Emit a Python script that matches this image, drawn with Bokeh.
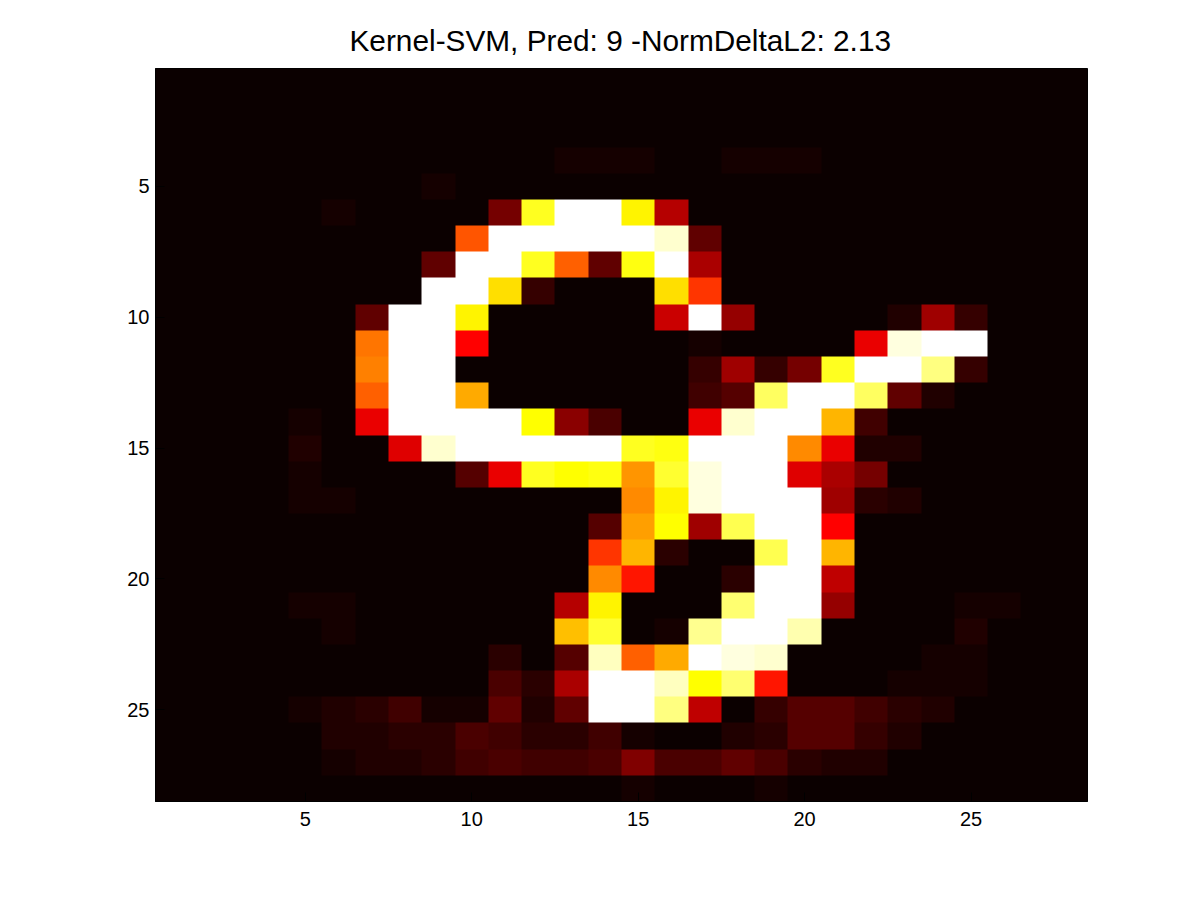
import numpy as np
from bokeh.plotting import figure
from bokeh.models import LinearColorMapper, FixedTicker, Range1d
from bokeh.embed import file_html
from bokeh.resources import INLINE

TITLE = "Kernel-SVM, Pred: 9 -NormDeltaL2: 2.13"
x_ticks = [5, 10, 15, 20, 25]
y_ticks = [5, 10, 15, 20, 25]

# Colour index (0-63) of each image cell, one list per image row
r01 = [0,0,0,0,0,0,0,0,0,0,0,0,0,0,0,0,0,0,0,0,0,0,0,0,0,0,0,0]
r02 = [0,0,0,0,0,0,0,0,0,0,0,0,0,0,0,0,0,0,0,0,0,0,0,0,0,0,0,0]
r03 = [0,0,0,0,0,0,0,0,0,0,0,0,0,0,0,0,0,0,0,0,0,0,0,0,0,0,0,0]
r04 = [0,0,0,0,0,0,0,0,0,0,0,0,1,1,1,0,0,1,1,1,0,0,0,0,0,0,0,0]
r05 = [0,0,0,0,0,0,0,0,1,0,0,0,0,0,0,0,0,0,0,0,0,0,0,0,0,0,0,0]
r06 = [0,0,0,0,0,1,0,0,0,0,10,49,63,63,46,16,0,0,0,0,0,0,0,0,0,0,0,0]
r07 = [0,0,0,0,0,0,0,0,0,31,63,63,63,63,63,60,8,0,0,0,0,0,0,0,0,0,0,0]
r08 = [0,0,0,0,0,0,0,0,8,63,63,49,32,8,48,63,15,0,0,0,0,0,0,0,0,0,0,0]
r09 = [0,0,0,0,0,0,0,0,63,63,44,4,0,0,0,44,28,0,0,0,0,0,0,0,0,0,0,0]
r10 = [0,0,0,0,0,0,8,63,63,46,0,0,0,0,0,18,63,13,0,0,0,0,2,14,4,0,0,0]
r11 = [0,0,0,0,0,0,34,63,63,23,0,0,0,0,0,0,1,0,0,0,0,21,61,63,63,0,0,0]
r12 = [0,0,0,0,0,0,35,63,63,0,0,0,0,0,0,0,4,14,4,10,49,63,63,55,4,0,0,0]
r13 = [0,0,0,0,0,0,32,63,63,39,0,0,0,0,0,0,5,7,53,63,63,53,8,2,0,0,0,0]
r14 = [0,0,0,0,1,0,21,63,63,63,63,47,12,6,0,0,21,60,63,63,40,5,0,0,0,0,0,0]
r15 = [0,0,0,0,2,0,0,20,60,63,63,63,63,63,49,48,63,63,63,36,21,2,2,0,0,0,0,0]
r16 = [0,0,0,0,1,0,0,0,0,7,21,49,47,48,37,50,61,63,63,20,15,10,0,0,0,0,0,0]
r17 = [0,0,0,0,1,1,0,0,0,0,0,0,0,0,36,46,61,63,63,63,14,3,2,0,0,0,0,0]
r18 = [0,0,0,0,0,0,0,0,0,0,0,0,0,7,38,47,14,52,63,63,23,0,0,0,0,0,0,0]
r19 = [0,0,0,0,0,0,0,0,0,0,0,0,0,28,40,3,0,0,52,63,40,0,0,0,0,0,0,0]
r20 = [0,0,0,0,0,0,0,0,0,0,0,0,0,36,25,0,0,3,63,63,17,0,0,0,0,0,0,0]
r21 = [0,0,0,0,1,1,0,0,0,0,0,0,16,46,0,0,0,54,63,63,13,0,0,0,1,1,0,0]
r22 = [0,0,0,0,0,1,0,0,0,0,0,0,41,50,0,1,56,63,63,58,0,0,0,0,2,0,0,0]
r23 = [0,0,0,0,0,0,0,0,0,0,3,0,7,59,32,39,63,61,60,0,0,0,0,1,1,0,0,0]
r24 = [0,0,0,0,0,0,0,0,0,0,6,3,15,63,63,59,47,54,25,0,0,0,1,1,1,0,0,0]
r25 = [0,0,0,0,1,2,3,5,1,1,8,2,8,63,63,55,17,0,4,7,7,5,3,2,0,0,0,0]
r26 = [0,0,0,0,0,2,2,3,3,6,5,3,3,5,1,0,0,2,3,7,7,4,2,0,0,0,0,0]
r27 = [0,0,0,0,0,1,2,2,3,5,6,5,5,6,11,6,6,8,6,3,2,2,0,0,0,0,0,0]
r28 = [0,0,0,0,0,0,0,0,0,0,0,0,0,0,1,0,0,0,1,0,0,0,0,0,0,0,0,0]

rows = [r01,r02,r03,r04,r05,r06,r07,r08,r09,r10,r11,r12,r13,r14,
        r15,r16,r17,r18,r19,r20,r21,r22,r23,r24,r25,r26,r27,r28]

# 64-level "hot" colormap
def hot(i):
    r = min((i + 1) / 24, 1.0)
    g = min(max((i - 23) / 24, 0.0), 1.0)
    b = max((i - 47) / 16, 0.0)
    return "#%02x%02x%02x" % (round(r * 255), round(g * 255), round(b * 255))
palette = [hot(i) for i in range(64)]

mapper = LinearColorMapper(palette=palette, low=-0.5, high=63.5)
img = np.array(rows, dtype=float)

p = figure(width=1192, height=892, output_backend="svg", toolbar_location=None,
           x_range=Range1d(0.5, 28.5), y_range=Range1d(28.5, 0.5),
           min_border_left=155, min_border_right=105, min_border_top=68, min_border_bottom=91,
           title=TITLE)
p.image(image=[img], x=0.5, y=0.5, dw=28, dh=28, color_mapper=mapper)
p.stylesheets = ["image { image-rendering: pixelated; }"]

p.grid.visible = False
p.background_fill_color = "#0b0000"
p.outline_line_color = "#000000"
p.title.align = "left"
p.title.text_font = "Liberation Sans"
p.title.text_font_style = "normal"
p.title.text_font_size = "29.8px"
p.title.text_color = "#000000"
p.title.offset = 194
p.title.standoff = 23
for ax, ticks in ((p.xaxis, x_ticks), (p.yaxis, y_ticks)):
    ax.ticker = FixedTicker(ticks=ticks)
    ax.major_label_text_font = "Liberation Sans"
    ax.major_label_text_font_size = "20px"
    ax.major_label_text_color = "#000000"
    ax.major_tick_in = 9
    ax.major_tick_out = 0
    ax.minor_tick_in = 0
    ax.minor_tick_out = 0
    ax.axis_line_color = "#000000"
    ax.major_tick_line_color = "#000000"
p.xaxis.major_label_standoff = 10
p.yaxis.major_label_standoff = 6

open("out.html", "w").write(file_html(p, INLINE))
